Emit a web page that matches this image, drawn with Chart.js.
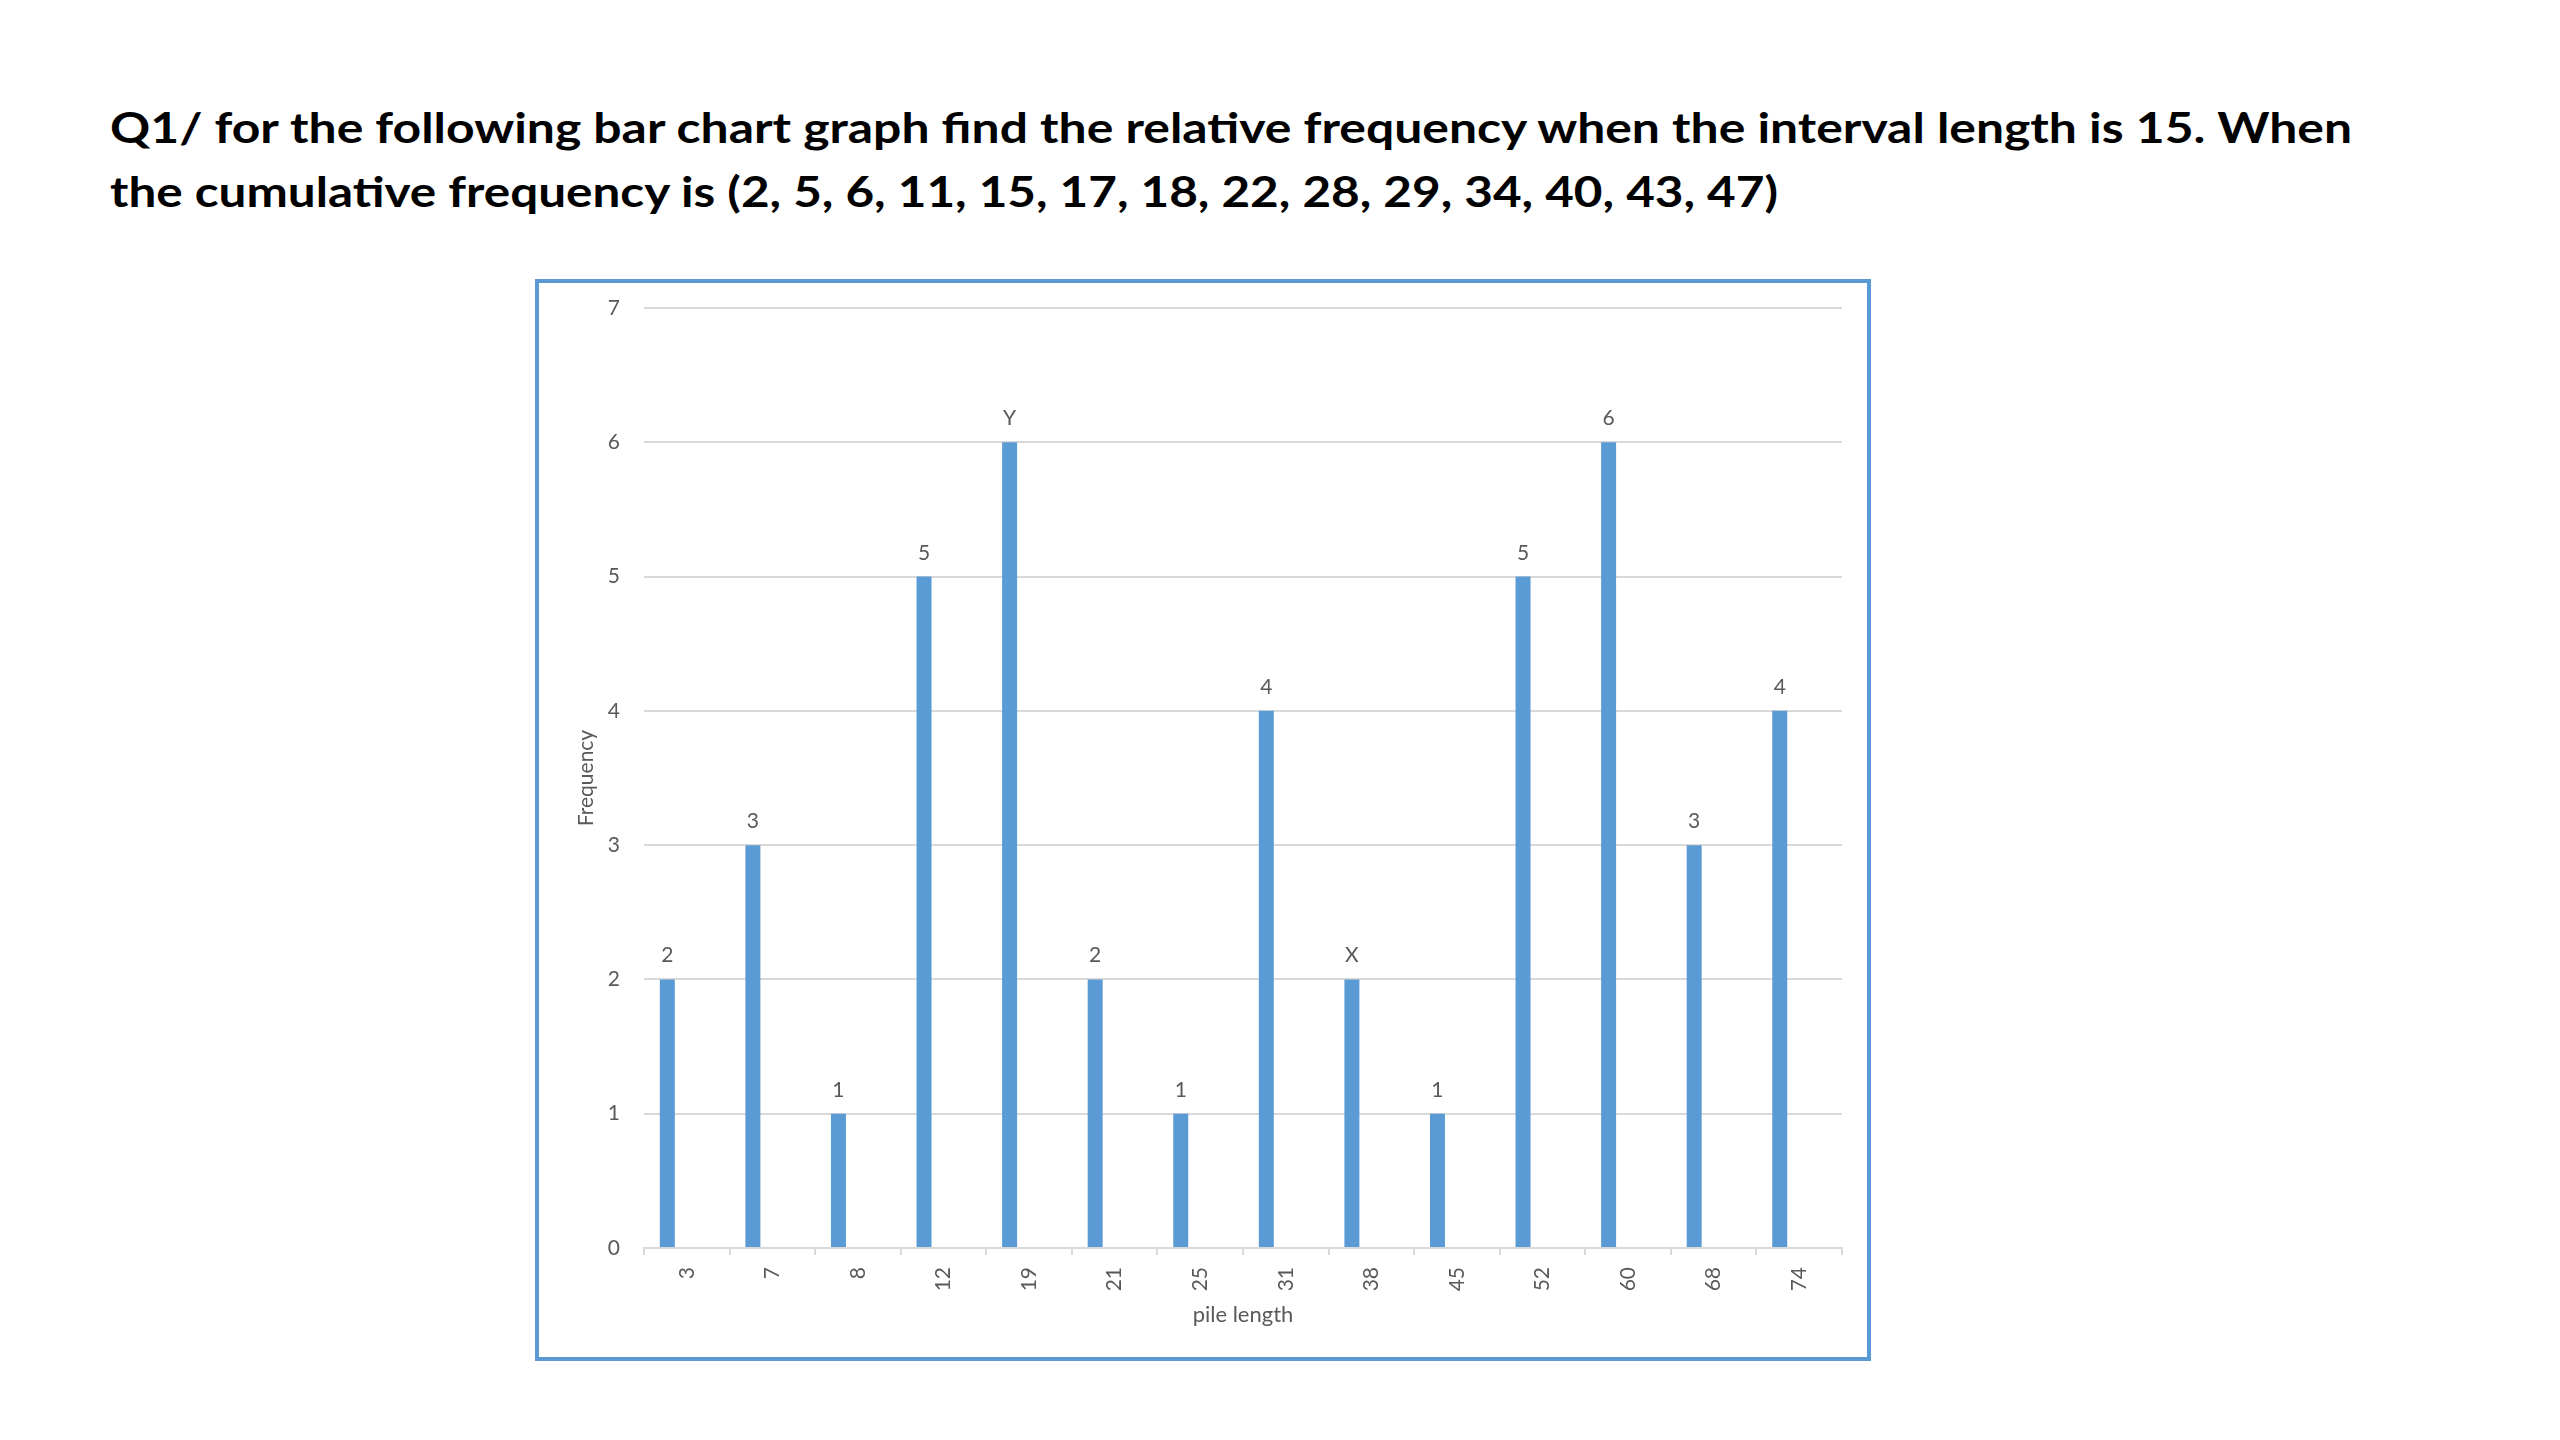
<!DOCTYPE html>
<html lang="en">
	<head>
		<meta charset="UTF-8" />
		<title>pile length</title>
		<script src="https://cdn.jsdelivr.net/npm/chart.js"></script>
		<style>
			html,
			body {
				margin: 0;
				padding: 0;
				width: 2560px;
				height: 1440px;
				background: #ffffff;
				overflow: hidden;
			}

			#question {
				position: absolute;
				left: 110px;
				top: 95px;
				font-family: "Lato", sans-serif;
				font-weight: 700;
				font-size: 42px;
				line-height: 64px;
				color: #000000;
				white-space: nowrap;
			}

			#question span {
				display: inline-block;
				transform-origin: 0 0;
			}

			#frame {
				position: absolute;
				left: 535px;
				top: 279px;
				width: 1336px;
				height: 1082px;
				box-sizing: border-box;
				border: 4px solid #5b9bd5;
			}
		</style>
	</head>
	<body>
		<div id="question">
			<span class="line" data-width="2242">Q1/ for the following bar chart graph find the relative frequency when the interval length is 15. When</span><br />
			<span class="line" data-width="1668">the cumulative frequency is (2, 5, 6, 11, 15, 17, 18, 22, 28, 29, 34, 40, 43, 47)</span>
		</div>

		<div id="frame">
			<canvas id="myChart"></canvas>
		</div>

		<script>
			// pile length categories and their frequencies
			var pileLengths = ["3", "7", "8", "12", "19", "21", "25", "31", "38", "45", "52", "60", "68", "74"];
			var frequencies = [2, 3, 1, 5, 6, 2, 1, 4, 2, 1, 5, 6, 3, 4];
			// labels printed above the bars (two of them are unknowns)
			var barLabels = ["2", "3", "1", "5", "Y", "2", "1", "4", "X", "1", "5", "6", "3", "4"];
			// empty second series, like the original sheet (keeps bars left of centre)
			var emptySeries = [null, null, null, null, null, null, null, null, null, null, null, null, null, null];
			var yTicks = [0, 1, 2, 3, 4, 5, 6, 7];

			// squeeze each question line to the width it has in the original
			document.querySelectorAll("#question .line").forEach(function (el) {
				var fit = Number(el.dataset.width) / el.getBoundingClientRect().width;
				el.style.transform = "scaleX(" + fit + ")";
			});

			var grey = "#595959";
			var gridGrey = "#d9d9d9";

			var barLabelPlugin = {
				id: "barLabels",
				afterDatasetsDraw: function (chart) {
					var ctx = chart.ctx;
					var meta = chart.getDatasetMeta(0);
					ctx.save();
					ctx.font = "21px Lato";
					ctx.fillStyle = grey;
					ctx.textAlign = "center";
					ctx.textBaseline = "alphabetic";
					meta.data.forEach(function (bar, i) {
						ctx.fillText(barLabels[i], bar.x, bar.y - 17);
					});
					ctx.restore();
				},
			};

			var ctx = document.getElementById("myChart").getContext("2d");
			var myChart = new Chart(ctx, {
				type: "bar",
				plugins: [barLabelPlugin],
				data: {
					labels: pileLengths,
					datasets: [
						{
							label: "Frequency",
							data: frequencies,
							backgroundColor: "#5b9bd5",
							categoryPercentage: 0.91,
							barPercentage: 0.385,
						},
						{
							label: "",
							data: emptySeries,
							backgroundColor: "#ed7d31",
							categoryPercentage: 0.91,
							barPercentage: 0.385,
						},
					],
				},
				options: {
					responsive: true,
					maintainAspectRatio: false,
					animation: false,
					layout: {
						padding: { left: 30, top: 25, right: 25, bottom: 0 },
					},
					plugins: {
						legend: { display: false },
						tooltip: { enabled: false },
					},
					scales: {
						x: {
							afterFit: function (scale) {
								scale.height = 109;
							},
							grid: {
								drawOnChartArea: false,
								color: gridGrey,
								lineWidth: 2,
								tickLength: 7,
								offset: true,
							},
							border: { color: gridGrey, width: 2 },
							ticks: {
								color: grey,
								font: { family: "Lato", size: 21 },
								minRotation: 90,
								maxRotation: 90,
								padding: 12,
							},
							title: {
								display: true,
								text: "pile length",
								color: grey,
								font: { family: "Lato", size: 22 },
								padding: { top: 0, bottom: 29 },
							},
						},
						y: {
							min: 0,
							max: 7,
							afterBuildTicks: function (scale) {
								scale.ticks = yTicks.map(function (v) {
									return { value: v };
								});
							},
							afterFit: function (scale) {
								scale.width = 75;
							},
							grid: {
								color: gridGrey,
								lineWidth: 2,
								drawTicks: true,
								tickLength: 12,
								tickColor: "rgba(0,0,0,0)",
							},
							border: { display: false },
							ticks: {
								color: grey,
								font: { family: "Lato", size: 21 },
								padding: 12,
							},
							title: {
								display: true,
								text: "Frequency",
								color: grey,
								font: { family: "Lato", size: 21 },
								padding: { top: 5, bottom: 0 },
							},
						},
					},
				},
			});
		</script>
	</body>
</html>
